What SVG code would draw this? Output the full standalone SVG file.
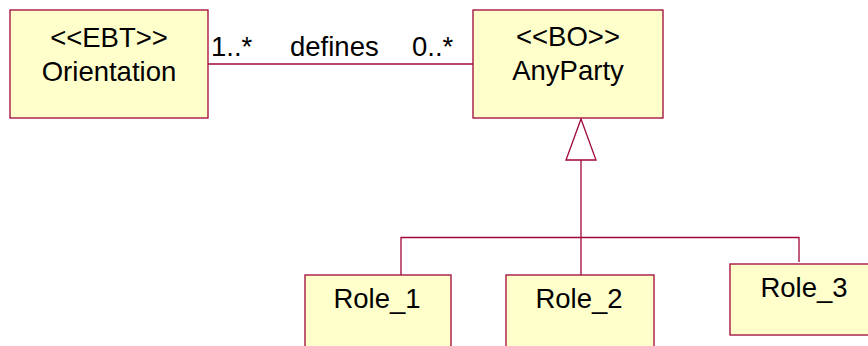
<svg xmlns="http://www.w3.org/2000/svg" width="868" height="346" viewBox="0 0 868 346">
  <style>
    .box { fill: #FFFFCC; stroke: #A0063A; stroke-width: 1.3; }
    .edge { fill: none; stroke: #A0063A; stroke-width: 1.3; }
    .head { fill: #FFFFFF; stroke: #A0063A; stroke-width: 1.3; }
    text { font-family: "Liberation Sans", Arial, sans-serif; font-size: 27.5px; fill: #000000; }
    .c { text-anchor: middle; }
  </style>
  <rect width="868" height="346" fill="#FFFFFF"/>

  <!-- connectors -->
  <g id="connectors">
    <!-- association Orientation - AnyParty -->
    <line class="edge" x1="208" y1="64" x2="473" y2="64"/>
    <text x="211" y="56">1..*</text>
    <text x="290" y="56">defines</text>
    <text x="412" y="56">0..*</text>
    <!-- generalization tree -->
    <line class="edge" x1="581" y1="160" x2="581" y2="275"/>
    <polyline class="edge" points="401,275 401,237.5 799,237.5 799,262"/>
    <polygon class="head" points="581,119 596,160 566,160"/>
  </g>

  <g id="orientation">
    <rect class="box" x="10" y="10" width="198" height="108"/>
    <text class="c" x="109" y="47">&lt;&lt;EBT&gt;&gt;</text>
    <text class="c" x="109" y="81">Orientation</text>
  </g>

  <g id="anyparty">
    <rect class="box" x="473" y="10" width="190" height="108"/>
    <text class="c" x="568" y="46">&lt;&lt;BO&gt;&gt;</text>
    <text class="c" x="568" y="80">AnyParty</text>
  </g>

  <g id="role1">
    <rect class="box" x="305" y="275" width="146" height="90"/>
    <text class="c" x="377" y="308">Role_1</text>
  </g>

  <g id="role2">
    <rect class="box" x="506" y="275" width="148" height="90"/>
    <text class="c" x="579" y="308">Role_2</text>
  </g>

  <g id="role3">
    <rect class="box" x="730" y="264" width="148" height="71"/>
    <text class="c" x="804" y="297">Role_3</text>
  </g>
</svg>
